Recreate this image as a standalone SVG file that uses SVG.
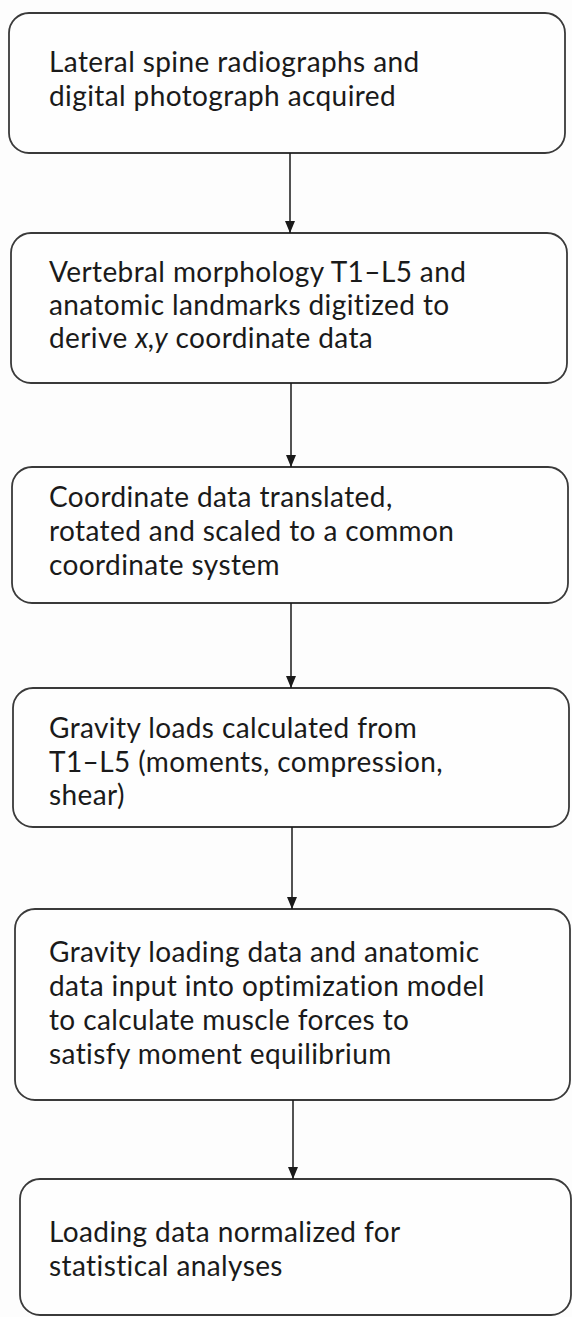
<svg xmlns="http://www.w3.org/2000/svg" width="572" height="1317" viewBox="0 0 572 1317">
<defs>
<marker id="ah" viewBox="0 0 12 10" refX="12" refY="5" markerWidth="12" markerHeight="10" markerUnits="userSpaceOnUse" orient="auto">
<path d="M0,0 L12,5 L0,10 Z" fill="#1a1a1a"/>
</marker>
<style>
.box{fill:#fefefe;stroke:#3a3a3a;stroke-width:1.8}
.t{font-family:Lato,"Open Sans",sans-serif;font-size:28px;letter-spacing:0.4px;fill:#1a1a1a}
.c{stroke:#1a1a1a;stroke-width:1.5;fill:none}
</style>
</defs>
<rect width="572" height="1317" fill="#fdfdfd"/>
<g id="n1"><rect class="box" x="9" y="13" width="556" height="140" rx="20"/>
<text class="t" x="49" y="72">Lateral spine radiographs and</text>
<text class="t" x="49" y="106">digital photograph acquired</text></g>
<g id="n2"><rect class="box" x="11" y="233" width="556" height="150" rx="20"/>
<text class="t" x="49" y="282">Vertebral morphology T1–L5 and</text>
<text class="t" x="49" y="315">anatomic landmarks digitized to</text>
<text class="t" x="49" y="348">derive <tspan font-style="italic">x,y</tspan> coordinate data</text></g>
<g id="n3"><rect class="box" x="12" y="467" width="556" height="136" rx="20"/>
<text class="t" x="49" y="507">Coordinate data translated,</text>
<text class="t" x="49" y="541">rotated and scaled to a common</text>
<text class="t" x="49" y="575">coordinate system</text></g>
<g id="n4"><rect class="box" x="13" y="688" width="556" height="139" rx="20"/>
<text class="t" x="49" y="738">Gravity loads calculated from</text>
<text class="t" x="49" y="772">T1–L5 (moments, compression,</text>
<text class="t" x="49" y="805">shear)</text></g>
<g id="n5"><rect class="box" x="15" y="909" width="555" height="191" rx="20"/>
<text class="t" x="49" y="962">Gravity loading data and anatomic</text>
<text class="t" x="49" y="996">data input into optimization model</text>
<text class="t" x="49" y="1030">to calculate muscle forces to</text>
<text class="t" x="49" y="1064">satisfy moment equilibrium</text></g>
<g id="n6"><rect class="box" x="20" y="1179" width="551" height="136" rx="20"/>
<text class="t" x="49" y="1242">Loading data normalized for</text>
<text class="t" x="49" y="1276">statistical analyses</text></g>
<g id="connectors">
<line class="c" x1="290" y1="153" x2="290" y2="233" marker-end="url(#ah)"/>
<line class="c" x1="291" y1="383" x2="291" y2="467" marker-end="url(#ah)"/>
<line class="c" x1="291" y1="603" x2="291" y2="688" marker-end="url(#ah)"/>
<line class="c" x1="292" y1="827" x2="292" y2="909" marker-end="url(#ah)"/>
<line class="c" x1="293" y1="1100" x2="293" y2="1179" marker-end="url(#ah)"/>
</g>
</svg>
